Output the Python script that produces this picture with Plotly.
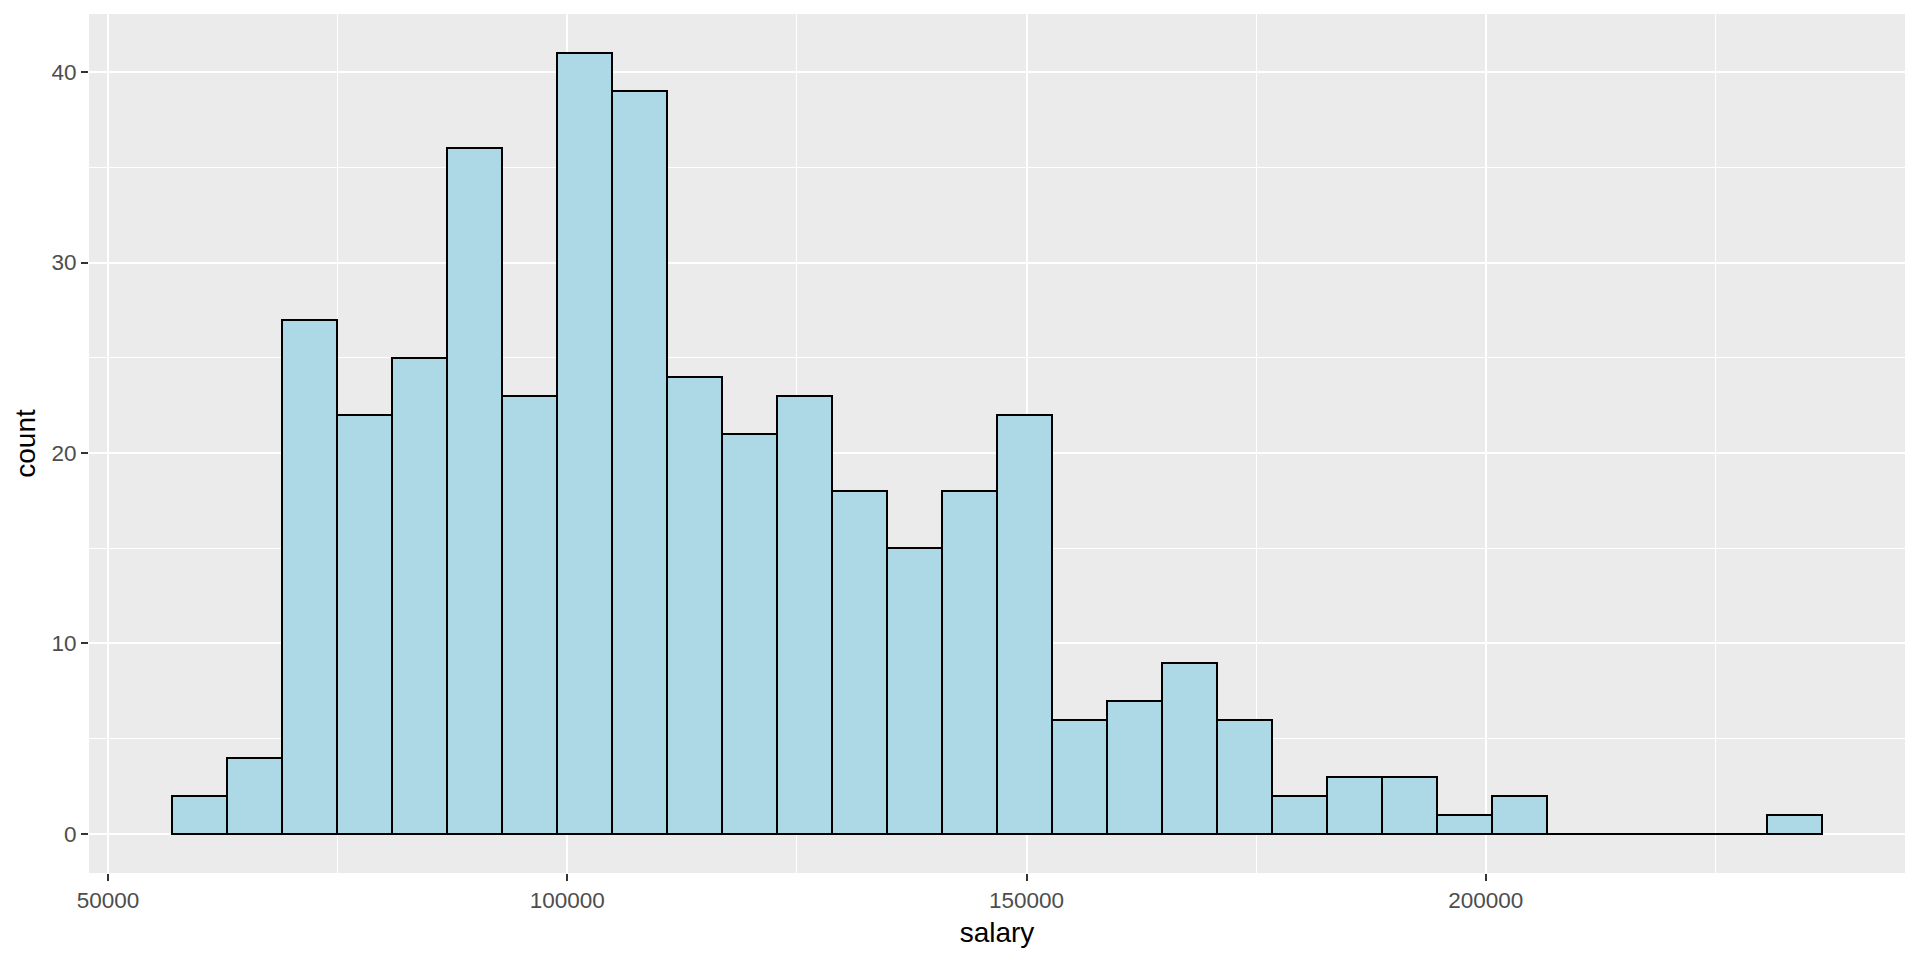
import plotly.graph_objects as go

# Histogram data (30 bins, ggplot2 default binning)
bin_start = 56916.5
bin_width = 5991.2
counts = [2, 4, 27, 22, 25, 36, 23, 41, 39, 24, 21, 23, 18, 15, 18, 22,
          6, 7, 9, 6, 2, 3, 3, 1, 2, 0, 0, 0, 0, 1]
x_major = [50000, 100000, 150000, 200000]
x_minor = [75000, 125000, 175000, 225000]
y_major = [0, 10, 20, 30, 40]
x_title = "salary"
y_title = "count"

n = len(counts)
edges = [bin_start + i * bin_width for i in range(n + 1)]
centers = [(edges[i] + edges[i + 1]) / 2 for i in range(n)]

fill = "#ADD8E6"
fig = go.Figure()
fig.add_trace(go.Bar(x=centers, y=counts, width=[bin_width] * n,
                     marker=dict(color=fill, line=dict(color="black", width=2)),
                     showlegend=False, hoverinfo="x+y"))

# zero-height bins are drawn by ggplot as a line along the baseline
zx, zy = [], []
for i, c in enumerate(counts):
    if c == 0:
        zx += [edges[i], edges[i + 1], None]
        zy += [0, 0, None]
fig.add_trace(go.Scatter(x=zx, y=zy, mode="lines", line=dict(color="black", width=2),
                         showlegend=False, hoverinfo="skip"))

xlo, xhi = edges[0], edges[-1]
xpad = (xhi - xlo) * 0.05
ylo, yhi = 0, max(counts)
ypad = (yhi - ylo) * 0.05

tickfont = dict(family="Liberation Sans, Arial, sans-serif", size=22.5, color="#4D4D4D")
titlefont = dict(family="Liberation Sans, Arial, sans-serif", size=28, color="black")

fig.update_layout(
    width=1920, height=960,
    margin=dict(l=89, r=15, t=14, b=87, autoexpand=False),
    paper_bgcolor="white", plot_bgcolor="#EBEBEB",
    bargap=0,
    xaxis=dict(range=[xlo - xpad, xhi + xpad], tickmode="array", tickvals=x_major,
               ticktext=[str(v) for v in x_major], automargin=False,
               showgrid=True, gridcolor="white", gridwidth=2, zeroline=False,
               ticks="outside", ticklen=7, tickwidth=1.5, tickcolor="#333333",
               tickfont=tickfont, showline=False,
               minor=dict(tickmode="array", tickvals=x_minor, showgrid=True,
                          gridcolor="white", gridwidth=1, ticks=""),
               title=dict(text=x_title, font=titlefont, standoff=10)),
    yaxis=dict(range=[ylo - ypad, yhi + ypad], tickmode="array", tickvals=y_major,
               ticktext=[str(v) for v in y_major], automargin=False,
               showgrid=True, gridcolor="white", gridwidth=2, zeroline=False,
               ticks="outside", ticklen=7, tickwidth=1.5, tickcolor="#333333",
               tickfont=tickfont, showline=False,
               minor=dict(dtick=5, showgrid=True, gridcolor="white", gridwidth=1, ticks=""),
               title=dict(text=y_title, font=titlefont, standoff=7)),
)

fig.write_html("out.html", config={"displayModeBar": False},
               post_script="document.body.style.margin='0';document.body.style.overflow='hidden';")
